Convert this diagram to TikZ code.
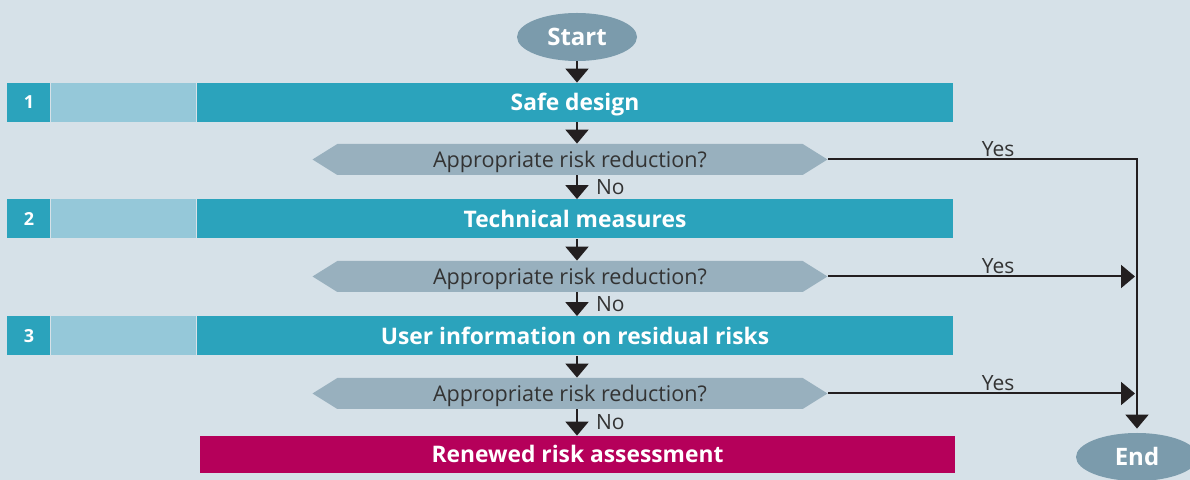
\documentclass[tikz,border=0pt]{standalone}
\usepackage{fontspec}
\setmainfont{Open Sans}
\usetikzlibrary{arrows.meta,positioning,shapes.geometric,shapes.symbols}

\definecolor{bgblue}{HTML}{D6E1E8}
\definecolor{stepteal}{HTML}{2BA3BC}
\definecolor{lightteal}{HTML}{95C8D9}
\definecolor{querygrey}{HTML}{98B0BE}
\definecolor{ovalgrey}{HTML}{7B9BAC}
\definecolor{alertred}{HTML}{B5005A}
\definecolor{inkdark}{HTML}{231F20}
\definecolor{textdark}{HTML}{333333}

\begin{document}
\begin{tikzpicture}[
  x=0.5pt, y=-0.5pt,
  stepbar/.style={fill=stepteal, text=white, font=\fontsize{11.4}{13}\selectfont\bfseries, text height=8.1pt, text depth=0pt, minimum width=378pt, minimum height=19.5pt, inner sep=0pt},
  numbox/.style={fill=stepteal, text=white, font=\fontsize{9}{11}\selectfont\bfseries, text height=6.4pt, text depth=0pt, minimum width=21.5pt, minimum height=19.5pt, inner sep=0pt},
  shadebox/.style={fill=lightteal, minimum width=72.5pt, minimum height=19.5pt, inner sep=0pt},
  query/.style={signal, signal to=west and east, signal pointer angle=64, fill=querygrey, text=textdark, font=\fontsize{10.8}{12}\selectfont, text height=7.7pt, text depth=0pt, minimum width=257.5pt, minimum height=15.5pt, inner sep=0pt},
  terminal/.style={ellipse, fill=ovalgrey, text=white, font=\fontsize{12}{14}\selectfont\bfseries, text height=8.6pt, text depth=0pt, minimum width=60pt, minimum height=24pt, inner sep=0pt},
  flow/.style={-{Triangle[width=11.5pt,length=7pt]}, line width=1pt, draw=inkdark},
  lbl/.style={font=\fontsize{10.5}{12}\selectfont, text=textdark, inner sep=1pt}
]
\useasboundingbox (0,0) rectangle (1190,480);
\fill[bgblue] (0,0) rectangle (1190,480);

% start and end
\node[terminal] (start) at (577,37) {Start};
\node[terminal, minimum width=61pt] (end) at (1137,457) {End};

% step bars with number boxes
\node[stepbar] (b1) at (575,102.5) {Safe design};
\node[stepbar] (b2) at (575,219) {Technical measures};
\node[stepbar] (b3) at (575,336) {User information on residual risks};
\foreach \b/\n in {b1/1,b2/2,b3/3} {
  \node[shadebox, left=0pt of \b] (s\n) {};
  \node[numbox, left=0pt of s\n] (n\n) {\n};
}

% decisions
\node[query] (d1) at (570,159.5) {Appropriate risk reduction?};
\node[query] (d2) at (570,276.5) {Appropriate risk reduction?};
\node[query] (d3) at (570,393.5) {Appropriate risk reduction?};

% final step
\node[stepbar, fill=alertred, minimum width=377.5pt, minimum height=18.5pt] (renew) at (577.5,454.5) {Renewed risk assessment};

% vertical arrows
\draw[flow] (start) -- (b1.north -| start);
\foreach \a/\b in {b1/d1,b2/d2,b3/d3}
  \draw[flow] (\a.south -| start) -- (\b.north -| start);
\foreach \a/\b in {d1/b2,d2/b3,d3/renew}
  \draw[flow] (\a.south -| start) -- node[lbl, right=8pt] {No} (\b.north -| start);

% yes branches
\draw[flow, shorten >=2pt] (d1.east) -- node[lbl, above, pos=0.55] {Yes} (d1.east -| end.north) -- (end.north);
\foreach \d in {d2,d3}
  \draw[flow, shorten >=1pt] (\d.east) -- node[lbl, above, pos=0.55] {Yes} (\d.east -| end.north);

\end{tikzpicture}
\end{document}
